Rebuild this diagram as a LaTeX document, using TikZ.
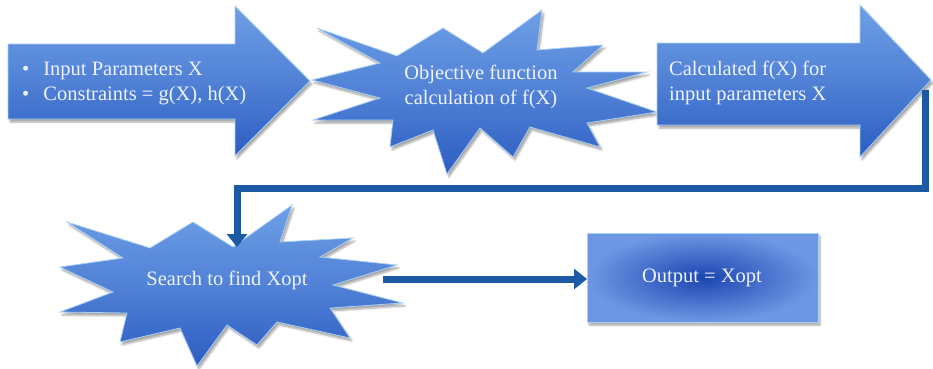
\documentclass[tikz,border=0pt]{standalone}
\usepackage{fontspec}
\setmainfont{Liberation Serif}
\usetikzlibrary{arrows.meta,shadows.blur}
\definecolor{shapetop}{HTML}{6E9FE6}
\definecolor{shapebot}{HTML}{2C5DC2}
\definecolor{shapeedge}{HTML}{A9D0F5}
\definecolor{linkblue}{HTML}{1C5AA6}
\definecolor{labelwhite}{HTML}{EEF3FF}
\definecolor{boxin}{HTML}{1B45B2}
\definecolor{boxout}{HTML}{6E97E3}
\tikzset{
  blueshape/.style={draw=shapeedge, line width=0.8pt, line join=miter,
    top color=shapetop, bottom color=shapebot, middle color=shapetop!55!shapebot,
    blur shadow={shadow xshift=2pt, shadow yshift=-3pt, shadow blur steps=6, shadow opacity=35}},
  outbox/.style={draw=shapeedge, line width=0.8pt,
    inner color=boxin, outer color=boxout,
    blur shadow={shadow xshift=2pt, shadow yshift=-3pt, shadow blur steps=6, shadow opacity=35}},
  label/.style={text=labelwhite, font=\fontsize{20.5}{25}\selectfont, align=center, inner sep=0pt},
  link/.style={draw=linkblue, line width=7pt, line join=miter,
    -{Triangle[length=13pt,width=20pt]}}
}
\begin{document}
\begin{tikzpicture}[x=1pt,y=-1pt]
\useasboundingbox (0,0) rectangle (933,368);

% block arrow: inputs
\path[blueshape] (8,44) -- (235,44) -- (235,6) -- (310,81) -- (235,156) -- (235,119) -- (8,119) -- cycle;
\node[label, align=left, anchor=west] (inputs) at (22,83)
  {\textbullet\hspace{14pt}Input Parameters X\\ \textbullet\hspace{14pt}Constraints = g(X), h(X)};

% burst: objective function
\path[blueshape] (317,28) -- (397,56) -- (443,28) -- (483,53) -- (542,10) -- (537,50)
  -- (603,45) -- (573,72) -- (647,72) -- (587,88) -- (657,112) -- (587,123)
  -- (600,147) -- (530,127) -- (513,157) -- (480,128) -- (447,174) -- (433,130)
  -- (390,147) -- (393,120) -- (313,120) -- (380,98) -- (312,80) -- (380,63) -- cycle;
\node[label] (objective) at (481,87) {Objective function\\ calculation of f(X)};

% block arrow: calculated value
\path[blueshape] (657,43) -- (860,43) -- (860,5) -- (931,80) -- (860,157) -- (860,125) -- (657,125) -- cycle;
\node[label, align=left, anchor=west] (calculated) at (669,83) {Calculated f(X) for\\ input parameters X};

% burst: search
\path[blueshape] (67,222) -- (150,248) -- (193,222) -- (233,247) -- (292,205) -- (280,242)
  -- (353,238) -- (320,257) -- (397,265) -- (333,285) -- (403,303) -- (330,308)
  -- (350,338) -- (277,322) -- (257,345) -- (227,325) -- (197,366) -- (180,328)
  -- (120,342) -- (127,313) -- (60,312) -- (113,292) -- (60,267) -- (123,258) -- cycle;
\node[label] (search) at (227,280) {Search to find Xopt};

% output box
\path[outbox] (587,233) rectangle (818,322);
\node[label] (output) at (702,278) {Output = Xopt};

% connector anchors
\coordinate (calcExit) at (925,90);
\coordinate (turnRight) at (925,188);
\coordinate (turnLeft) at (237,188);
\coordinate (searchTop) at (237,247);
\coordinate (searchExit) at (383,279);
\coordinate (outputIn) at (587,279);

\draw[link] (calcExit) -- (turnRight) -- (turnLeft) -- (searchTop);
\draw[link] (searchExit) -- (outputIn);
\end{tikzpicture}
\end{document}
